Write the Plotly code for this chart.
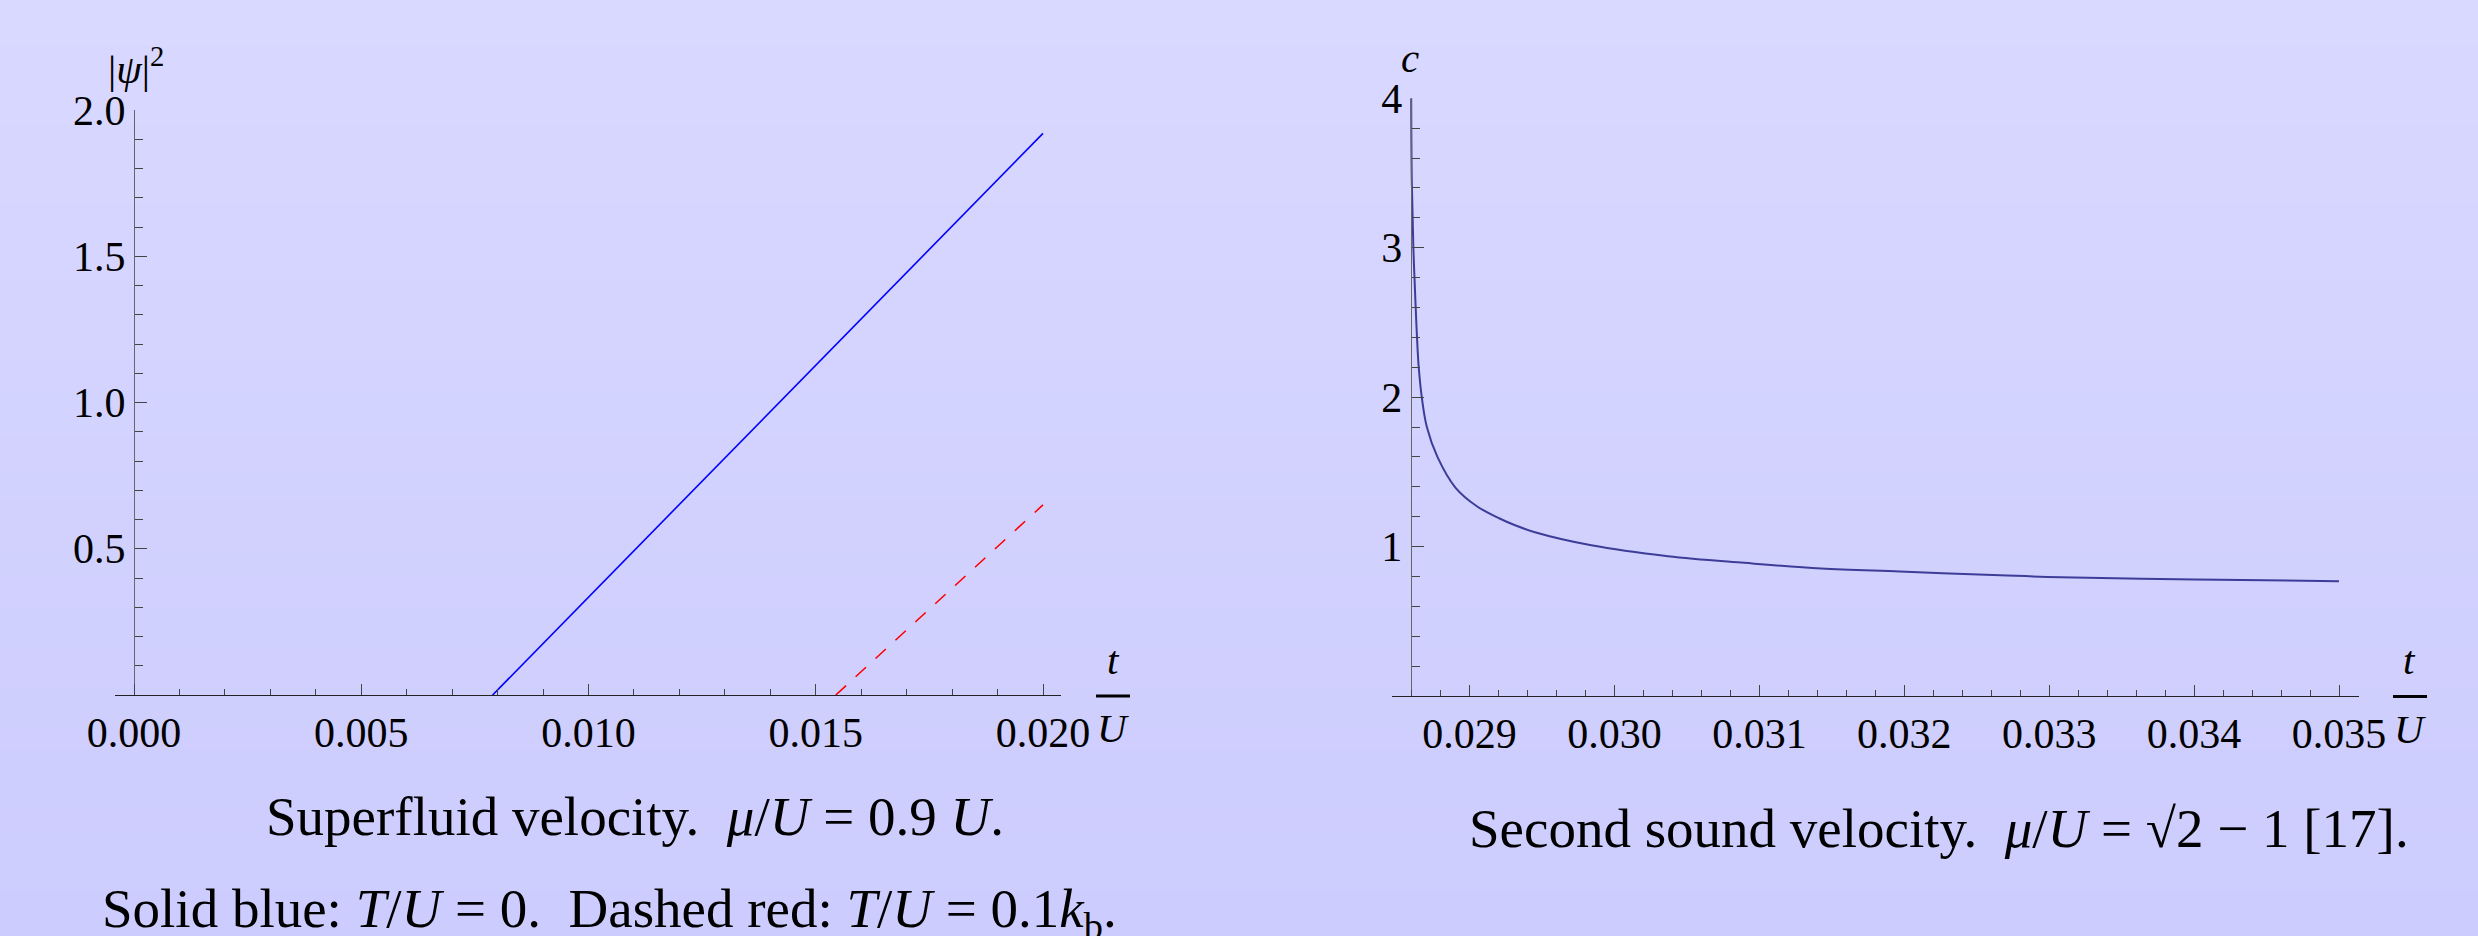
import plotly.graph_objects as go

W, H = 2478, 936

# ---------------- data: left panel (|psi|^2 vs t/U) ----------------
t_blue = [0.00789, 0.0200]
psi2_blue = [0.0, 1.92]
t_red = [0.01544, 0.0200]
psi2_red = [0.0, 0.65]

left_xtick_vals = [0.000, 0.005, 0.010, 0.015, 0.020]
left_xtick_text = ["0.000", "0.005", "0.010", "0.015", "0.020"]
left_ytick_vals = [0.5, 1.0, 1.5, 2.0]
left_ytick_text = ["0.5", "1.0", "1.5", "2.0"]

# ---------------- data: right panel (c vs t/U) ----------------
t_c = [0.028597, 0.028601, 0.028612, 0.028628, 0.028637, 0.028649, 0.028670,
       0.028705, 0.028778, 0.028902, 0.029050, 0.029207, 0.029314, 0.029445,
       0.029840, 0.030369, 0.030897, 0.031426, 0.031970, 0.032661, 0.032988,
       0.034005, 0.035000]
c_vals = [4.00, 3.45, 3.00, 2.60, 2.40, 2.20, 2.00,
          1.80, 1.60, 1.395, 1.27, 1.188, 1.143, 1.098,
          1.009, 0.936, 0.891, 0.853, 0.833, 0.808, 0.797,
          0.780, 0.768]

right_xtick_vals = [0.029, 0.030, 0.031, 0.032, 0.033, 0.034, 0.035]
right_xtick_text = ["0.029", "0.030", "0.031", "0.032", "0.033", "0.034", "0.035"]
right_ytick_vals = [1, 2, 3, 4]
right_ytick_text = ["1", "2", "3", "4"]

# ---------------- helpers ----------------
def px(x):
    return x / W

def py(y):
    return 1 - y / H

SERIF = "Liberation Serif, Times New Roman, serif"
TICKFONT = dict(family=SERIF, size=42, color="black")

fig = go.Figure()
fig.add_trace(go.Scatter(x=t_blue, y=psi2_blue, mode="lines",
                         line=dict(color="#0000ff", width=1.6),
                         xaxis="x", yaxis="y", hoverinfo="skip"))
fig.add_trace(go.Scatter(x=t_red, y=psi2_red, mode="lines",
                         line=dict(color="#ff0000", width=1.6, dash="14px,13px"),
                         xaxis="x", yaxis="y", hoverinfo="skip"))
fig.add_trace(go.Scatter(x=t_c, y=c_vals, mode="lines",
                         line=dict(color="#3d3d99", width=2, shape="spline", smoothing=1.0),
                         xaxis="x2", yaxis="y2", hoverinfo="skip"))

common_x = dict(showline=True, linecolor="#222222", linewidth=1.2,
                ticks="inside", ticklen=11, tickwidth=1, tickcolor="#444444",
                tickmode="array", tickfont=TICKFONT, showgrid=False, zeroline=False,
                fixedrange=True, automargin=False)
common_y = dict(showline=True, linecolor="#666666", linewidth=1.4,
                ticks="inside", ticklen=12, tickwidth=1, tickcolor="#444444",
                tickmode="array", tickfont=TICKFONT, showgrid=False, zeroline=False,
                fixedrange=True, anchor="free", automargin=False)

fig.update_layout(
    xaxis=dict(common_x, domain=[px(115), px(1061)], range=[-0.000418, 0.020396],
               anchor="y", tickvals=left_xtick_vals, ticktext=left_xtick_text,
               minor=dict(dtick=0.001, tick0=0, ticks="inside", ticklen=6,
                          tickcolor="#444444", showgrid=False)),
    yaxis=dict(common_y, domain=[py(695), py(110)], range=[0, 2],
               position=px(134), tickvals=left_ytick_vals, ticktext=left_ytick_text,
               minor=dict(dtick=0.1, tick0=0, ticks="inside", ticklen=7.5,
                          tickcolor="#444444", showgrid=False)),
    xaxis2=dict(common_x, domain=[px(1392), px(2359)], range=[0.0284645, 0.035138],
                anchor="y2", tickvals=right_xtick_vals, ticktext=right_xtick_text,
                minor=dict(dtick=0.0002, tick0=0.029, ticks="inside", ticklen=6,
                           tickcolor="#444444", showgrid=False)),
    yaxis2=dict(common_y, domain=[py(696), py(98.3)], range=[0, 4],
                position=px(1410.7), tickvals=right_ytick_vals, ticktext=right_ytick_text,
                minor=dict(dtick=0.2, tick0=0, ticks="inside", ticklen=7.5,
                           tickcolor="#444444", showgrid=False)),
)

# background gradient (lavender, lighter at top)
top = (217, 216, 255)
bot = (204, 204, 254)
N = 60
shapes = []
for i in range(N):
    f = i / (N - 1)
    col = tuple(round(top[k] + (bot[k] - top[k]) * f) for k in range(3))
    shapes.append(dict(type="rect", xref="paper", yref="paper",
                       x0=0, x1=1, y1=1 - i / N, y0=1 - (i + 1.3) / N,
                       fillcolor="rgb(%d,%d,%d)" % col, line=dict(width=0),
                       layer="below"))
# fraction bars of the t/U axis labels
shapes.append(dict(type="line", xref="paper", yref="paper",
                   x0=px(1096), x1=px(1130), y0=py(696), y1=py(696),
                   line=dict(color="black", width=3)))
shapes.append(dict(type="line", xref="paper", yref="paper",
                   x0=px(2393), x1=px(2427), y0=py(696.5), y1=py(696.5),
                   line=dict(color="black", width=3)))

ann = []
def add_text(text, x, y, size=41, xanchor="center", yanchor="middle"):
    ann.append(dict(text=text, x=px(x), y=py(y), xref="paper", yref="paper",
                    showarrow=False, xanchor=xanchor, yanchor=yanchor,
                    font=dict(family=SERIF, size=size, color="black")))

add_text("|<i>ψ</i>|<sup>2</sup>", 136, 66)
add_text("<i>c</i>", 1410, 58)
add_text("<i>t</i>", 1113, 660)
add_text("<i>U</i>", 1113, 728)
add_text("<i>t</i>", 2409, 660)
add_text("<i>U</i>", 2410, 729)

add_text("Superfluid velocity.  <i>μ</i>/<i>U</i> = 0.9 <i>U</i>.", 635, 816, size=55)
add_text("Solid blue: <i>T</i>/<i>U</i> = 0.  Dashed red: <i>T</i>/<i>U</i> = 0.1<i>k</i><sub>b</sub>.",
         100, 912, size=55, xanchor="left")
add_text("Second sound velocity.  <i>μ</i>/<i>U</i> = √2 − 1 [17].", 1467, 828, size=55,
         xanchor="left")

fig.update_layout(
    width=W, height=H, autosize=False,
    margin=dict(l=0, r=0, t=0, b=0, pad=0, autoexpand=False),
    paper_bgcolor="rgb(210,210,254)", plot_bgcolor="rgba(0,0,0,0)",
    showlegend=False, shapes=shapes, annotations=ann,
)

post = ("document.documentElement.style.margin='0';"
        "document.documentElement.style.padding='0';"
        "document.documentElement.style.overflow='hidden';"
        "document.body.style.margin='0';"
        "document.body.style.padding='0';"
        "document.body.style.overflow='hidden';"
        "document.body.style.background='rgb(210,210,254)';")

fig.write_html("out.html", post_script=post,
               config={"displayModeBar": False, "staticPlot": True})
